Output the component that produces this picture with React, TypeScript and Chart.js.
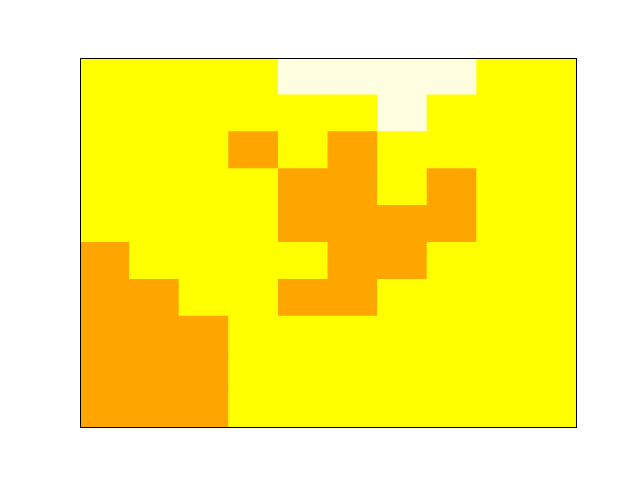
import React, { useEffect, useRef } from "react";
import { Chart, registerables } from "chart.js";

Chart.register(...registerables);

// Column categories (10 columns)
const columns = ["0", "1", "2", "3", "4", "5", "6", "7", "8", "9"];

// Cell classes per row, top row first: 0 = light, 1 = yellow, 2 = orange
const row0 = [1, 1, 1, 1, 0, 0, 0, 0, 1, 1];
const row1 = [1, 1, 1, 1, 1, 1, 0, 1, 1, 1];
const row2 = [1, 1, 1, 2, 1, 2, 1, 1, 1, 1];
const row3 = [1, 1, 1, 1, 2, 2, 1, 2, 1, 1];
const row4 = [1, 1, 1, 1, 2, 2, 2, 2, 1, 1];
const row5 = [2, 1, 1, 1, 1, 2, 2, 1, 1, 1];
const row6 = [2, 2, 1, 1, 2, 2, 1, 1, 1, 1];
const row7 = [2, 2, 2, 1, 1, 1, 1, 1, 1, 1];
const row8 = [2, 2, 2, 1, 1, 1, 1, 1, 1, 1];
const row9 = [2, 2, 2, 1, 1, 1, 1, 1, 1, 1];

const rowsTopFirst = [row0, row1, row2, row3, row4, row5, row6, row7, row8, row9];
const palette = ["#fffde0", "#ffff00", "#ffa500"];

const framePlugin = {
  id: "frame",
  afterDraw(chart: any) {
    const { ctx, chartArea } = chart;
    ctx.save();
    ctx.strokeStyle = "#000000";
    ctx.lineWidth = 1;
    ctx.strokeRect(
      Math.round(chartArea.left) + 0.5,
      Math.round(chartArea.top) + 0.5,
      Math.round(chartArea.right - chartArea.left),
      Math.round(chartArea.bottom - chartArea.top)
    );
    ctx.restore();
  },
};

export default function App() {
  const ref = useRef<HTMLCanvasElement>(null);

  useEffect(() => {
    if (!ref.current) return;
    // bottom row first so stacking draws from bottom up
    const datasets = rowsTopFirst
      .slice()
      .reverse()
      .map((row, i) => ({
        label: "row" + (9 - i),
        data: row.map(() => 1),
        backgroundColor: row.map((c) => palette[c]),
        borderWidth: 0,
        barPercentage: 1,
        categoryPercentage: 1,
        inflateAmount: 0.5,
      }));
    const chart = new Chart(ref.current, {
      type: "bar",
      data: { labels: columns, datasets },
      options: {
        animation: false,
        responsive: false,
        maintainAspectRatio: false,
        layout: { padding: { left: 80, right: 64, top: 58, bottom: 53 } },
        plugins: { legend: { display: false }, tooltip: { enabled: false } },
        scales: {
          x: { stacked: true, display: false },
          y: { stacked: true, display: false, min: 0, max: 10 },
        },
      },
      plugins: [framePlugin],
    });
    return () => chart.destroy();
  }, []);

  return (
    <div style={{ position: "absolute", left: 0, top: 0, width: 640, height: 480, background: "#ffffff" }}>
      <canvas ref={ref} width={640} height={480} />
    </div>
  );
}
